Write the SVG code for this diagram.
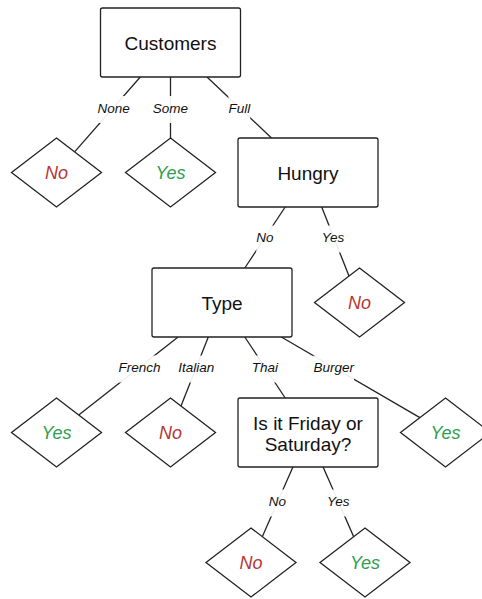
<svg xmlns="http://www.w3.org/2000/svg" width="482" height="599" viewBox="0 0 482 599">
<style>
.box{fill:#fff;stroke:#222;stroke-width:1.3}
.dia{fill:#fff;stroke:#222;stroke-width:1.3}
.edge{stroke:#222;stroke-width:1.3;fill:none}
.lbg{fill:#fff;fill-opacity:0.92}
.lbl{font-family:"Liberation Sans",Arial,sans-serif;font-style:italic;font-size:13.5px;fill:#111;text-anchor:middle}
.nt{font-family:"Liberation Sans",Arial,sans-serif;font-size:19px;fill:#111;text-anchor:middle}
.no{font-family:"Liberation Sans",Arial,sans-serif;font-style:italic;font-size:18px;fill:#b83535;text-anchor:middle}
.yes{font-family:"Liberation Sans",Arial,sans-serif;font-style:italic;font-size:18px;fill:#2e9e50;text-anchor:middle}
</style>
<rect width="482" height="599" fill="#fff"/>
<g id="connectors">
<line class="edge" x1="140.3" y1="77" x2="74.6" y2="151.9"/>
<line class="edge" x1="170.5" y1="77" x2="170.5" y2="138"/>
<line class="edge" x1="207" y1="77" x2="271.5" y2="138"/>
<line class="edge" x1="285.2" y1="207" x2="244.8" y2="268"/>
<line class="edge" x1="321.7" y1="207" x2="349" y2="276"/>
<line class="edge" x1="178.1" y1="337" x2="78.7" y2="415"/>
<line class="edge" x1="208.3" y1="337" x2="181" y2="406"/>
<line class="edge" x1="244.8" y1="337" x2="285.2" y2="398"/>
<line class="edge" x1="281.3" y1="337" x2="419.9" y2="417.6"/>
<line class="edge" x1="292.9" y1="467" x2="262.3" y2="536.7"/>
<line class="edge" x1="323.1" y1="467" x2="353.7" y2="536.7"/>
<rect class="lbg" x="97.5" y="96" width="32.4" height="27"/>
<text class="lbl" x="113.7" y="113">None</text>
<rect class="lbg" x="152.8" y="96" width="35.4" height="27"/>
<text class="lbl" x="170.5" y="113">Some</text>
<rect class="lbg" x="228.4" y="96" width="21.8" height="27"/>
<text class="lbl" x="239.3" y="113">Full</text>
<rect class="lbg" x="256.3" y="225.5" width="17.4" height="27"/>
<text class="lbl" x="265" y="242.2">No</text>
<rect class="lbg" x="321.4" y="225.5" width="23.4" height="27"/>
<text class="lbl" x="333.1" y="242.2">Yes</text>
<rect class="lbg" x="118.5" y="355.5" width="42" height="27"/>
<text class="lbl" x="139.5" y="372.4">French</text>
<rect class="lbg" x="178.2" y="355.5" width="36" height="27"/>
<text class="lbl" x="196.2" y="372.4">Italian</text>
<rect class="lbg" x="251.8" y="355.5" width="26.4" height="27"/>
<text class="lbl" x="265" y="372.4">Thai</text>
<rect class="lbg" x="313.4" y="355.5" width="40.6" height="27"/>
<text class="lbl" x="333.7" y="372.4">Burger</text>
<rect class="lbg" x="268.8" y="489.5" width="17.4" height="27"/>
<text class="lbl" x="277.5" y="506.4">No</text>
<rect class="lbg" x="326.6" y="489.5" width="23.4" height="27"/>
<text class="lbl" x="338.3" y="506.4">Yes</text>
</g>
<g id="customers">
<rect class="box" x="100.5" y="8" width="140" height="69" rx="2"/>
<text class="nt" x="170.5" y="50">Customers</text>
</g>
<g id="none-no">
<polygon class="dia" points="56.5,138 101.5,172.5 56.5,207 11.5,172.5"/>
<text class="no" x="56.5" y="179">No</text>
</g>
<g id="some-yes">
<polygon class="dia" points="170.5,138 215.5,172.5 170.5,207 125.5,172.5"/>
<text class="yes" x="170.5" y="179">Yes</text>
</g>
<g id="hungry">
<rect class="box" x="238" y="138" width="140" height="69" rx="2"/>
<text class="nt" x="308" y="180">Hungry</text>
</g>
<g id="hungry-yes-no">
<polygon class="dia" points="359.5,268 404.5,302.5 359.5,337 314.5,302.5"/>
<text class="no" x="359.5" y="309">No</text>
</g>
<g id="type">
<rect class="box" x="152" y="268" width="140" height="69" rx="2"/>
<text class="nt" x="222" y="310">Type</text>
</g>
<g id="french-yes">
<polygon class="dia" points="56.5,398 101.5,432.5 56.5,467 11.5,432.5"/>
<text class="yes" x="56.5" y="439">Yes</text>
</g>
<g id="italian-no">
<polygon class="dia" points="170.5,398 215.5,432.5 170.5,467 125.5,432.5"/>
<text class="no" x="170.5" y="439">No</text>
</g>
<g id="friday">
<rect class="box" x="238" y="398" width="140" height="69" rx="2"/>
<text class="nt" x="308" y="430">Is it Friday or</text>
<text class="nt" x="308" y="451">Saturday?</text>
</g>
<g id="burger-yes">
<polygon class="dia" points="445.5,398 490.5,432.5 445.5,467 400.5,432.5"/>
<text class="yes" x="445.5" y="439">Yes</text>
</g>
<g id="friday-no">
<polygon class="dia" points="251,528 296,562.5 251,597 206,562.5"/>
<text class="no" x="251" y="569">No</text>
</g>
<g id="friday-yes">
<polygon class="dia" points="365,528 410,562.5 365,597 320,562.5"/>
<text class="yes" x="365" y="569">Yes</text>
</g>
</svg>
